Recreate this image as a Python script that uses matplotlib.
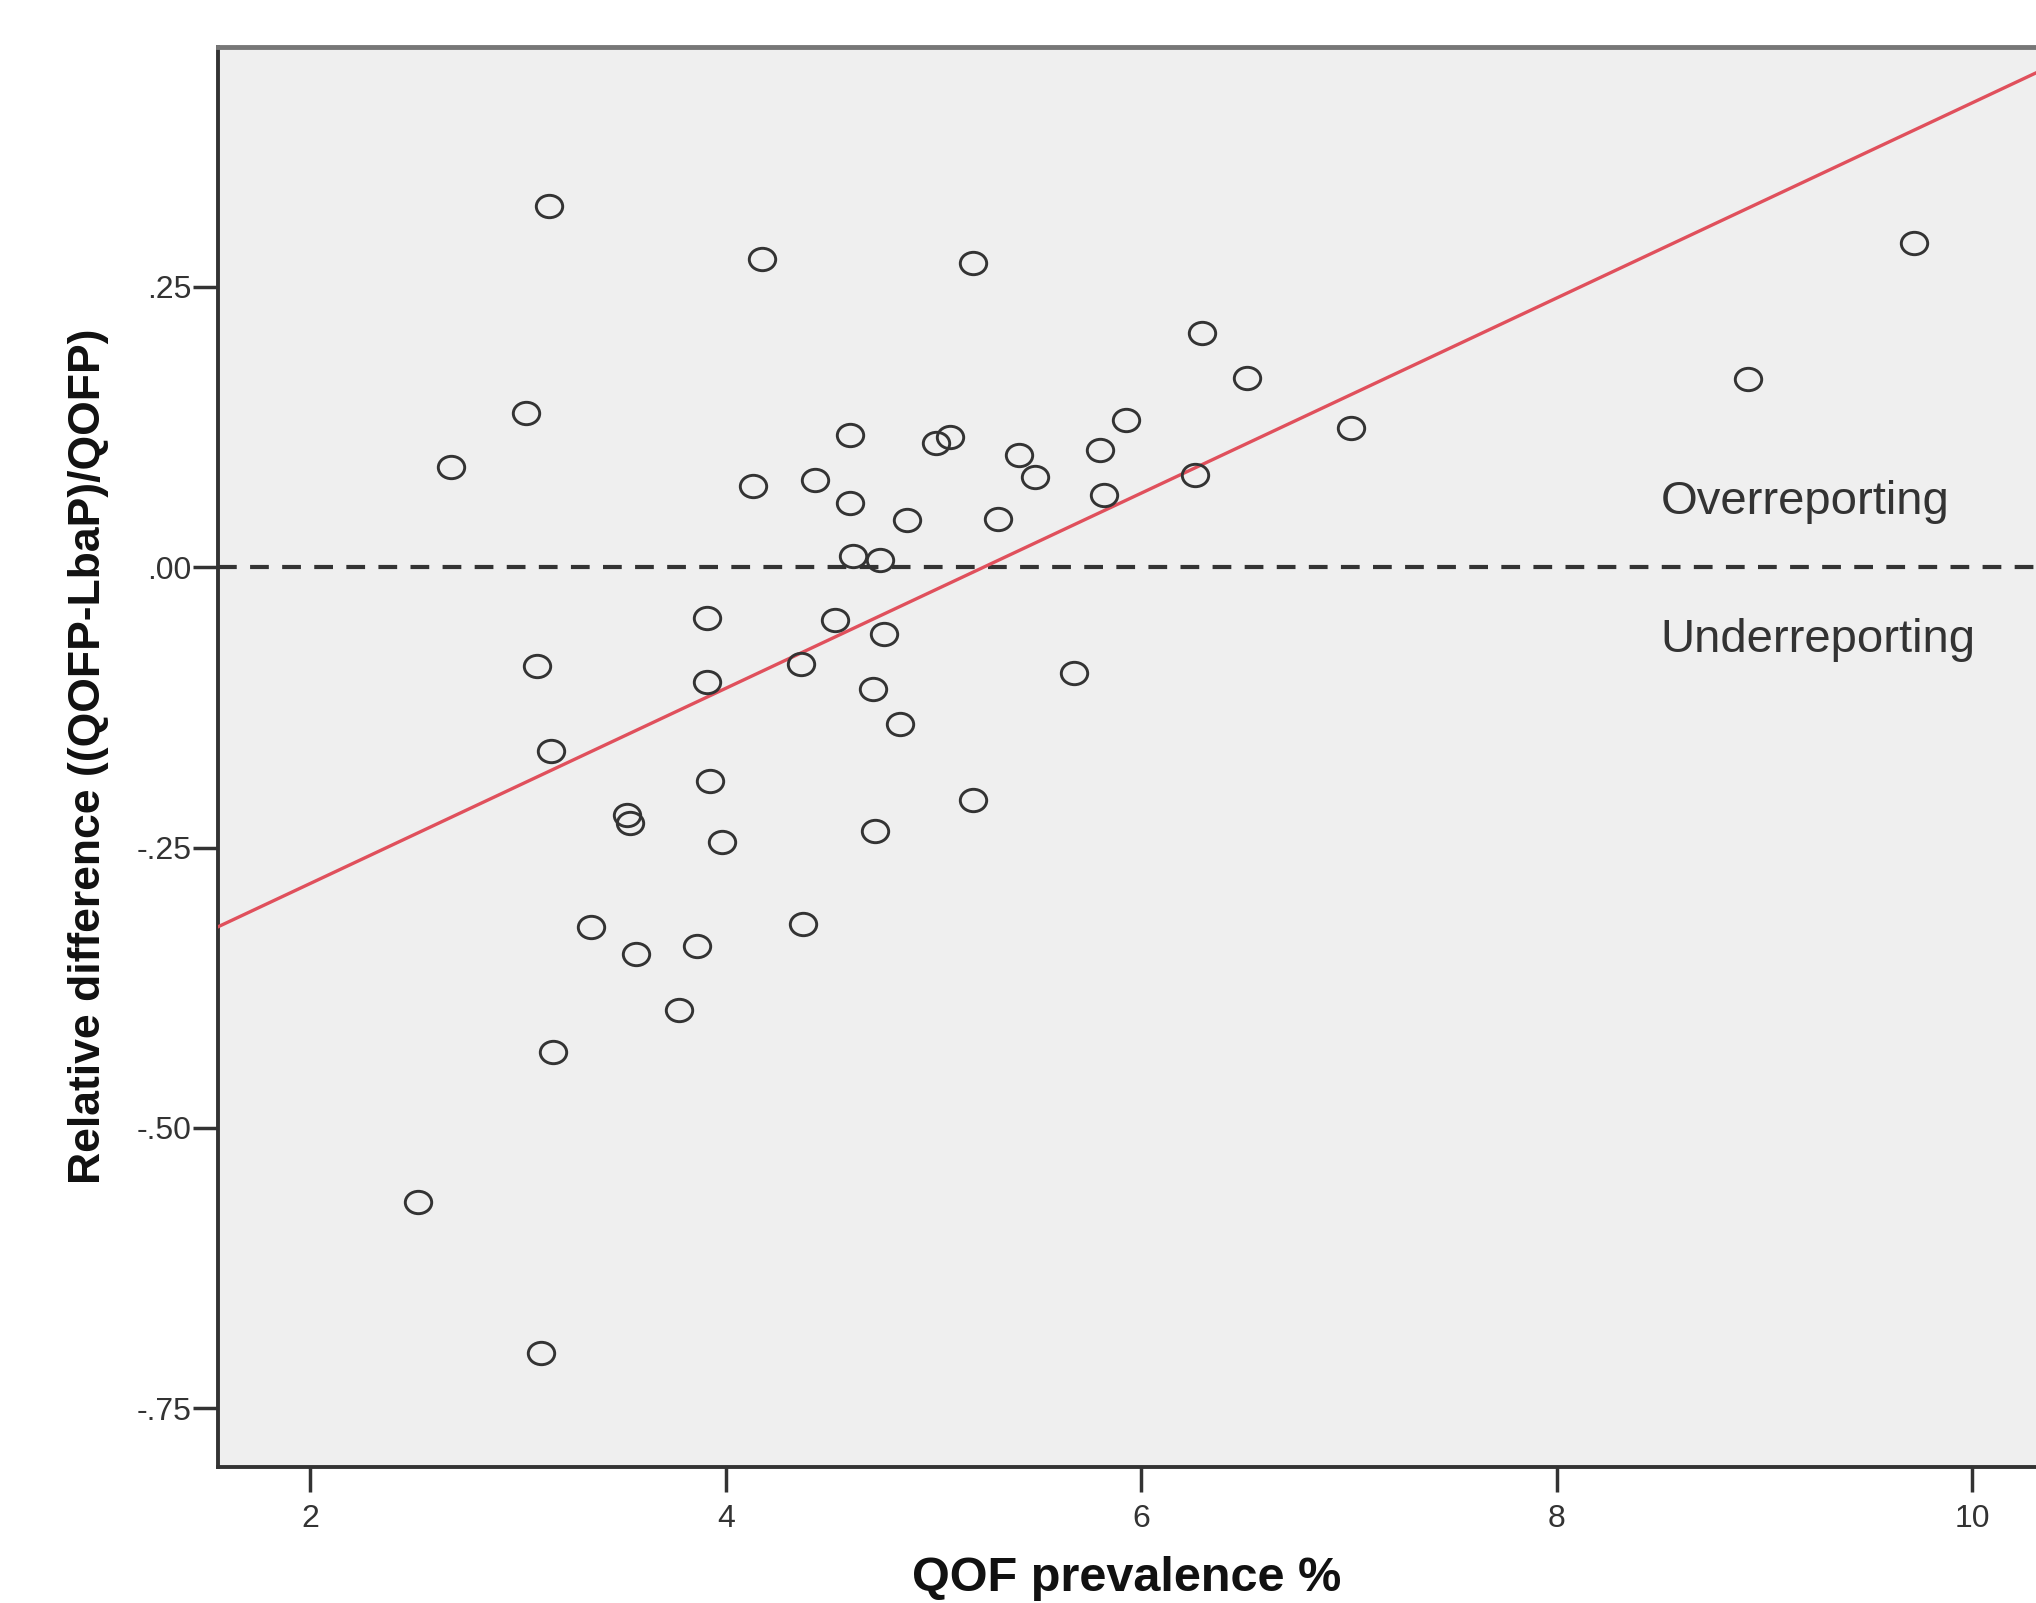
import numpy as np
import matplotlib
matplotlib.use("Agg")
import matplotlib.pyplot as plt
from matplotlib.path import Path
from matplotlib.transforms import Affine2D

# QOF prevalence (%) and relative difference per practice
qof_prev = [3.15, 4.175, 5.19, 9.72, 6.29, 6.51, 8.92, 3.04, 2.675, 4.60,
            5.01, 5.08, 5.925, 7.01, 5.41, 5.80, 4.13, 4.43, 4.60, 5.49,
            6.26, 5.82, 4.87, 5.31, 4.61, 4.74, 3.91, 4.525, 4.76, 3.09,
            4.36, 3.91, 5.675, 4.71, 4.84, 3.16, 3.925, 5.19, 3.525, 3.54,
            4.72, 3.98, 3.35, 4.37, 3.57, 3.86, 3.775, 3.17, 2.52, 3.11]
rel_diff = [0.322, 0.275, 0.271, 0.289, 0.209, 0.169, 0.168, 0.137, 0.089, 0.118,
            0.111, 0.116, 0.131, 0.124, 0.100, 0.104, 0.072, 0.078, 0.057, 0.080,
            0.082, 0.064, 0.042, 0.043, 0.010, 0.006, -0.045, -0.047, -0.060, -0.088,
            -0.086, -0.102, -0.094, -0.109, -0.140, -0.164, -0.191, -0.208, -0.221, -0.228,
            -0.235, -0.245, -0.321, -0.318, -0.345, -0.338, -0.395, -0.432, -0.566, -0.701]

# fitted line (intercept, slope)
fit_intercept = -0.456
fit_slope = 0.087

x_ticks = [2, 4, 6, 8, 10]
y_ticks = [0.25, 0.0, -0.25, -0.5, -0.75]
y_tick_labels = [".25", ".00", "-.25", "-.50", "-.75"]

fig = plt.figure(figsize=(20.36, 16.03), dpi=100)
ax = fig.add_axes([0.1071, 0.085, 0.8929, 0.8859])
ax.set_facecolor("#efefef")

# slightly flattened open circle marker
ellipse = Path.unit_circle().transformed(Affine2D().scale(1.18, 1.0))

xlim = (1.556, 10.306)
ax.set_xlim(*xlim)
ax.set_ylim(-0.802, 0.464)

ax.axhline(0, color="#333333", lw=3, ls=(0, (4.5, 3.2)), zorder=2)

xs = np.array(xlim)
ax.plot(xs, fit_intercept + fit_slope * xs, color="#e0505c", lw=2.4, zorder=3)

ax.plot(qof_prev, rel_diff, ls="none", marker=ellipse, markersize=19,
        markerfacecolor="none", markeredgecolor="#333333", markeredgewidth=2.1,
        zorder=4)

ax.text(8.5, 0.058, "Overreporting", fontsize=34, color="#333333",
        family="Liberation Sans", va="center", ha="left")
ax.text(8.5, -0.065, "Underreporting", fontsize=34, color="#333333",
        family="Liberation Sans", va="center", ha="left")

ax.set_xticks(x_ticks)
ax.set_xticklabels([str(t) for t in x_ticks])
ax.set_yticks(y_ticks)
ax.set_yticklabels(y_tick_labels)
for lbl in ax.get_xticklabels() + ax.get_yticklabels():
    lbl.set_family("Liberation Sans")
    lbl.set_fontsize(23)
    lbl.set_color("#333333")
ax.tick_params(axis="both", direction="out", length=18, width=2.5, color="#333333")
ax.tick_params(axis="y", pad=1)
ax.tick_params(axis="x", pad=9)

ax.spines["right"].set_visible(False)
ax.spines["top"].set_color("#777777")
ax.spines["top"].set_linewidth(3.5)
for side in ["left", "bottom"]:
    ax.spines[side].set_color("#333333")
    ax.spines[side].set_linewidth(2.8)

ax.set_xlabel("QOF prevalence %", fontsize=35, fontweight="bold",
              family="Liberation Sans", labelpad=16, color="#111111")
ax.set_ylabel("Relative difference ((QOFP-LbaP)/QOFP)", fontsize=32,
              fontweight="bold", family="Liberation Sans", labelpad=20,
              color="#111111")

plt.savefig("out.png", dpi=100, facecolor="white")
